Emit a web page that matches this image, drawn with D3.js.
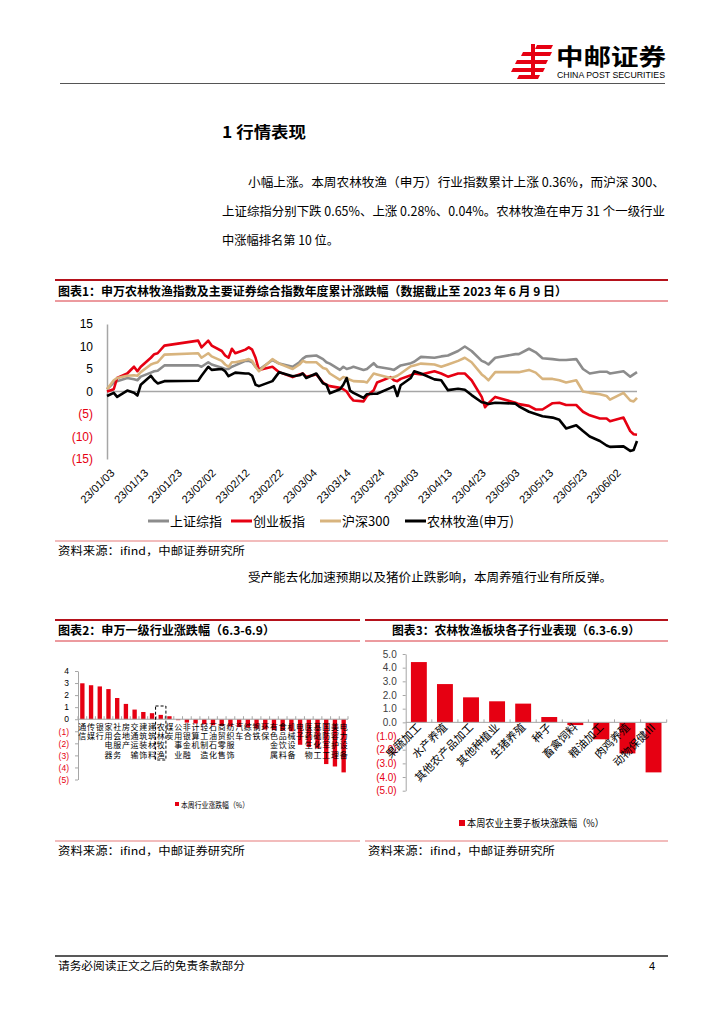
<!DOCTYPE html>
<html><head><meta charset="utf-8">
<script src="https://cdn.jsdelivr.net/npm/d3@7/dist/d3.min.js"></script>
<style>
body{margin:0;background:#fff;}
svg{display:block;}
text{font-family:"Noto Sans CJK SC","Liberation Sans",sans-serif;}
</style></head><body>
<svg id="page" width="724" height="1024"></svg>
<script>
// ---------- Chart 1 data (cumulative YTD %) ----------
const dates = ["2023-01-03","2023-01-05","2023-01-06","2023-01-09","2023-01-11","2023-01-12","2023-01-13","2023-01-16","2023-01-17","2023-01-18","2023-01-20","2023-01-30","2023-01-31",
"2023-02-02","2023-02-03","2023-02-06","2023-02-07","2023-02-08","2023-02-09","2023-02-10","2023-02-13","2023-02-14","2023-02-15","2023-02-16","2023-02-17","2023-02-21","2023-02-23","2023-02-27",
"2023-03-01","2023-03-02","2023-03-03","2023-03-06","2023-03-08","2023-03-09","2023-03-10","2023-03-13","2023-03-14","2023-03-15","2023-03-16","2023-03-17","2023-03-20","2023-03-21","2023-03-23","2023-03-24","2023-03-28","2023-03-29","2023-03-30","2023-03-31",
"2023-04-03","2023-04-04","2023-04-06","2023-04-10","2023-04-12","2023-04-14","2023-04-17","2023-04-19","2023-04-21","2023-04-24","2023-04-25","2023-04-26","2023-04-28",
"2023-05-04","2023-05-05","2023-05-08","2023-05-10","2023-05-12","2023-05-15","2023-05-17","2023-05-19","2023-05-22","2023-05-24","2023-05-26","2023-05-29","2023-05-31",
"2023-06-01","2023-06-05","2023-06-07","2023-06-08","2023-06-09"];
const shComposite = [0.5,2.0,2.3,3.0,2.7,2.5,3.3,4.2,4.5,4.6,5.8,5.8,5.5,
6.5,6.0,5.3,5.0,5.0,5.5,5.8,6.8,6.8,6.5,5.5,4.8,7.0,6.2,5.5,
6.5,7.3,7.8,8.0,7.2,6.5,6.2,4.8,5.5,5.0,5.2,5.5,4.8,5.0,6.3,5.5,5.0,4.8,5.3,5.8,
6.3,6.6,7.7,7.5,7.8,8.0,9.0,10.0,9.0,6.8,6.5,6.0,7.5,
8.3,8.3,9.5,8.7,7.4,7.2,7.0,7.0,7.2,5.0,4.0,4.4,4.4,
4.0,4.5,3.3,3.8,4.3];
const chinext = [0.0,0.5,3.0,4.0,5.5,4.5,5.5,7.5,8.3,8.5,10.2,11.3,9.8,
11.3,10.2,9.0,8.0,7.5,9.5,8.5,9.3,9.8,9.3,7.5,4.8,5.5,4.3,3.2,
3.8,4.0,3.3,3.8,2.0,1.5,1.2,0.8,0.5,0.0,-1.2,-2.0,-2.2,-1.0,0.3,2.0,3.2,2.5,2.3,2.8,
3.6,4.0,3.8,4.5,4.0,3.3,4.0,4.0,2.5,-1.2,-3.5,-2.6,-1.2,
-2.5,-2.8,-3.2,-4.0,-4.0,-2.6,-2.5,-3.0,-3.0,-4.5,-5.3,-6.0,-6.0,
-6.6,-5.8,-8.8,-9.5,-9.6];
const csi300 = [0.5,2.5,3.0,3.5,3.6,3.5,4.3,6.0,6.3,6.5,8.2,8.5,7.5,
8.5,7.8,6.8,6.0,5.5,6.5,6.5,7.0,7.2,6.8,5.5,4.5,7.2,6.2,5.0,
6.0,6.8,6.5,6.5,5.2,5.0,4.0,2.6,3.2,3.0,2.6,2.3,2.2,2.0,4.0,3.8,3.0,3.2,3.5,4.0,
5.6,5.8,6.2,6.0,5.5,6.0,6.8,7.5,6.5,3.8,3.2,2.5,4.3,
4.3,4.3,4.8,4.2,2.8,2.8,2.5,2.0,2.5,0.0,-0.3,-0.6,-1.0,
-1.8,-0.3,-2.0,-2.2,-1.4];
const agriSW = [-1.0,-0.3,-1.2,0.2,-0.3,-0.9,1.5,3.5,2.5,1.8,2.3,2.4,3.5,
5.5,4.8,5.0,4.5,3.4,3.8,4.2,4.0,4.0,3.5,1.5,1.2,2.3,4.3,3.4,
3.6,4.0,3.0,4.0,1.8,1.5,-0.4,0.5,1.5,3.0,0.2,-0.3,-1.4,-0.6,-0.5,-0.5,0.8,1.2,-1.0,1.4,
3.0,4.5,4.0,2.7,2.5,0.3,0.6,0.4,-0.8,-2.4,-2.5,-2.8,-2.5,
-2.7,-3.3,-4.5,-5.0,-5.5,-5.8,-6.3,-8.2,-7.5,-8.8,-10.0,-11.0,-12.0,
-12.3,-12.2,-13.2,-13.0,-11.0];
const seriesNames = ["上证综指","创业板指","沪深300","农林牧渔(申万)"];
const yTicks1 = [15,10,5,0,-5,-10,-15];
const xTickDates = ["2023-01-03","2023-01-13","2023-01-23","2023-02-02","2023-02-12","2023-02-22","2023-03-04","2023-03-14","2023-03-24","2023-04-03","2023-04-13","2023-04-23","2023-05-03","2023-05-13","2023-05-23","2023-06-02"];

// ---------- Chart 2 data ----------
const industries = ["通信","传媒","银行","家用电器","社会服务","房地产","交通运输","建筑装饰","建筑材料","农林牧渔","煤炭","公用事业","非银金融","计算机","轻工制造","石油石化","商贸零售","纺织服饰","汽车","综合","钢铁","环保","有色金属","食品饮料","机械设备","电子","医药生物","基础化工","国防军工","美容护理","电力设备"];
const industryChange = [2.98,2.82,2.72,2.5,1.76,1.27,0.8,0.6,0.5,0.36,0.25,-0.08,-0.28,-0.35,-0.42,-0.5,-0.55,-0.6,-0.65,-0.7,-0.78,-0.85,-0.9,-0.95,-1.0,-2.12,-2.3,-2.42,-3.72,-3.92,-4.41];
const yTicks2 = [4,3,2,1,0,-1,-2,-3,-4,-5];

// ---------- Chart 3 data ----------
const subIndustries = ["果蔬加工","水产养殖","其他农产品加工","其他种植业","生猪养殖","种子","畜禽饲料","粮油加工","肉鸡养殖","动物保健Ⅲ"];
const subChange = [4.41,2.8,1.83,1.54,1.37,0.39,-0.2,-1.24,-2.27,-3.66];
const yTicks3 = [5,4,3,2,1,0,-1,-2,-3,-4,-5];

const RED = "#e60012";
const svg = d3.select("#page");
svg.append("rect").attr("width",724).attr("height",1024).attr("fill","#fff");

function txt(x,y,s,opts={}){
  const t = svg.append("text").attr("x",x).attr("y",y).text(s)
    .attr("font-size",opts.size||12).attr("fill",opts.fill||"#000");
  if(opts.weight) t.attr("font-weight",opts.weight);
  if(opts.len) t.attr("textLength",opts.len).attr("lengthAdjust","spacingAndGlyphs");
  if(opts.anchor) t.attr("text-anchor",opts.anchor);
  if(opts.family) t.style("font-family",opts.family);
  return t;
}
function hline(x1,x2,y,color,w){
  svg.append("line").attr("x1",x1).attr("x2",x2).attr("y1",y).attr("y2",y).attr("stroke",color).attr("stroke-width",w);
}

// ---------- Header ----------
const logo = svg.append("g").attr("fill",RED);
logo.append("polygon").attr("points","537,45 553,45 551,49 535,49");
logo.append("polygon").attr("points","523,52 552,52 550,56 521,56");
logo.append("polygon").attr("points","517,60 548,60 546,64 515,64");
logo.append("polygon").attr("points","513,68 545,68 543,72 511,72");
logo.append("polygon").attr("points","519,75 540,75 538,79 517,79");
logo.append("rect").attr("x",531).attr("y",44).attr("width",4).attr("height",35);
txt(556,65,"中邮证券",{size:23,weight:"bold",len:110});
txt(557,78,"CHINA POST SECURITIES",{size:8.5,len:108,family:"Liberation Sans"});
hline(60,665,83.5,"#555",1);

// ---------- Section text ----------
txt(222,138,"1 行情表现",{size:16,weight:"bold",len:84});
txt(248,187,"小幅上涨。本周农林牧渔（申万）行业指数累计上涨 0.36%，而沪深 300、",{size:12.5,len:417});
txt(222,216,"上证综指分别下跌 0.65%、上涨 0.28%、0.04%。农林牧渔在申万 31 个一级行业",{size:12.5,len:443});
txt(222,245,"中涨幅排名第 10 位。",{size:12.5,len:117});

// ---------- Chart 1 frame ----------
hline(55,668,280,"#b5121b",2);
hline(55,668,301,"#d9363e",1);
txt(58,295.5,"图表1：申万农林牧渔指数及主要证券综合指数年度累计涨跌幅（数据截止至 2023 年 6 月 9 日）",{size:12,weight:"bold",len:509});
hline(55,668,541,"#f2bcbc",2);
txt(58,555,"资料来源：ifind，中邮证券研究所",{size:11,len:187});
txt(248,582,"受产能去化加速预期以及猪价止跌影响，本周养殖行业有所反弹。",{size:12.5,len:364});

// ---------- Chart 1 ----------
const parse = d3.timeParse("%Y-%m-%d");
const dts = dates.map(parse);
const x1 = d3.scaleTime().domain([parse("2023-01-03"),parse("2023-06-09")]).range([107,637]);
const y1 = d3.scaleLinear().domain([-15,15]).range([459,324]);
const g1 = svg.append("g");
g1.append("line").attr("x1",107).attr("x2",637).attr("y1",y1(0)).attr("y2",y1(0)).attr("stroke","#a6a6a6").attr("stroke-width",1.5);
const yAx1 = g1.append("g").attr("transform","translate(107,0)")
  .call(d3.axisLeft(y1).tickValues(yTicks1).tickSize(0).tickPadding(14).tickFormat(d=>d<0?`(${-d})`:d));
yAx1.select(".domain").attr("stroke","#a6a6a6").attr("stroke-width",1.5);
yAx1.selectAll("text").attr("font-size",12).style("font-family","Liberation Sans").attr("fill",d=>d<0?RED:"#000");
const xAx1 = g1.append("g").attr("transform","translate(0,459)")
  .call(d3.axisBottom(x1).tickValues(xTickDates.map(parse)).tickSize(0).tickFormat(d3.timeFormat("%y/%m/%d")));
xAx1.select(".domain").remove();
xAx1.selectAll("text").attr("y",0).attr("dy","0.35em").attr("text-anchor","end")
  .attr("transform","translate(5,12) rotate(-45)").attr("font-size",11).style("font-family","Liberation Sans").attr("fill","#000");
const colors1 = ["#8c8c8c",RED,"#d8b47e","#000"];
const allSeries = [shComposite,chinext,csi300,agriSW];
const line1 = d3.line().x((d,i)=>x1(dts[i])).y(d=>y1(d));
allSeries.forEach((s,k)=>{
  g1.append("path").datum(s).attr("d",line1).attr("fill","none").attr("stroke",colors1[k]).attr("stroke-width",2.6).attr("stroke-linejoin","round");
});
const legX = [148,231,320,405];
seriesNames.forEach((n,k)=>{
  g1.append("line").attr("x1",legX[k]).attr("x2",legX[k]+21).attr("y1",521).attr("y2",521).attr("stroke",colors1[k]).attr("stroke-width",3);
  g1.append("text").attr("x",legX[k]+22).attr("y",526).attr("font-size",13).text(n);
});

// ---------- Chart 2 frame ----------
hline(55,360,620,"#b5121b",2);
hline(55,360,641,"#d9363e",1);
txt(58,634.5,"图表2：申万一级行业涨跌幅（6.3-6.9）",{size:12,weight:"bold",len:217});
hline(55,360,841,"#f2bcbc",2);
txt(58,855,"资料来源：ifind，中邮证券研究所",{size:11,len:187});

// ---------- Chart 2 ----------
const x2 = d3.scaleBand().domain(industries).range([78,348]).paddingInner(0.5).paddingOuter(0.25);
const y2 = d3.scaleLinear().domain([-5,4]).range([779.5,671]);
const g2 = svg.append("g");
const yAx2 = g2.append("g").attr("transform","translate(78,0)")
  .call(d3.axisLeft(y2).tickValues(yTicks2).tickSize(3).tickSizeOuter(0).tickPadding(6).tickFormat(d=>d<0?`(${-d})`:d));
yAx2.selectAll("path,line").attr("stroke","#a6a6a6");
yAx2.selectAll("text").attr("font-size",8.5).style("font-family","Liberation Sans").attr("fill",d=>d<0?RED:"#000");
g2.selectAll("rect.bar").data(industries).enter().append("rect")
  .attr("x",d=>x2(d)).attr("width",x2.bandwidth())
  .attr("y",(d,i)=>y2(Math.max(0,industryChange[i])))
  .attr("height",(d,i)=>Math.abs(y2(industryChange[i])-y2(0)))
  .attr("fill",RED);
g2.append("line").attr("x1",78).attr("x2",348).attr("y1",y2(0)).attr("y2",y2(0)).attr("stroke","#a6a6a6");
for(let i=0;i<=industries.length;i++){
  const bx = 78 + x2.step()*(i+0.25) - x2.step()*0.25 + (i===industries.length?0:0);
  g2.append("line").attr("x1",bx).attr("x2",bx).attr("y1",y2(0)).attr("y2",y2(0)-3).attr("stroke","#a6a6a6");
}
industries.forEach((d,i)=>{
  const cx = x2(d)+x2.bandwidth()/2;
  const t = g2.append("text").attr("font-size",8).attr("text-anchor","middle").attr("fill","#000");
  [...d].forEach((ch,j)=>{
    t.append("tspan").attr("x",cx).attr("y",730+j*9.2).text(ch);
  });
});
const hx = x2("农林牧渔");
g2.append("rect").attr("x",hx-3).attr("y",706).attr("width",x2.bandwidth()+6).attr("height",54)
  .attr("fill","none").attr("stroke","#000").attr("stroke-width",1).attr("stroke-dasharray","3,2");
g2.append("rect").attr("x",175).attr("y",802).attr("width",4).attr("height",4).attr("fill",RED);
g2.append("text").attr("x",181).attr("y",807.5).attr("font-size",8).attr("textLength",68).attr("lengthAdjust","spacingAndGlyphs").text("本周行业涨跌幅（%）");

// ---------- Chart 3 frame ----------
hline(365,668,620,"#b5121b",2);
hline(365,668,641,"#d9363e",1);
txt(392,634.5,"图表3：农林牧渔板块各子行业表现（6.3-6.9）",{size:12,weight:"bold",len:248});
hline(365,668,841,"#f2bcbc",2);
txt(368,855,"资料来源：ifind，中邮证券研究所",{size:11,len:187});

// ---------- Chart 3 ----------
const x3 = d3.scaleBand().domain(subIndustries).range([405.7,666.7]).paddingInner(0.39).paddingOuter(0.2);
const y3 = d3.scaleLinear().domain([-5,5]).range([790.7,654]);
const g3 = svg.append("g");
const yAx3 = g3.append("g").attr("transform","translate(405.7,0)")
  .call(d3.axisLeft(y3).tickValues(yTicks3).tickSize(3).tickSizeOuter(0).tickPadding(6).tickFormat(d=>d<0?`(${(-d).toFixed(1)})`:d.toFixed(1)));
yAx3.selectAll("path,line").attr("stroke","#a6a6a6");
yAx3.selectAll("text").attr("font-size",10).style("font-family","Liberation Sans").attr("fill",d=>d<0?RED:"#404040");
g3.selectAll("rect.bar").data(subIndustries).enter().append("rect")
  .attr("x",d=>x3(d)).attr("width",x3.bandwidth())
  .attr("y",(d,i)=>y3(Math.max(0,subChange[i])))
  .attr("height",(d,i)=>Math.abs(y3(subChange[i])-y3(0)))
  .attr("fill",RED);
g3.append("line").attr("x1",405.7).attr("x2",666.7).attr("y1",y3(0)).attr("y2",y3(0)).attr("stroke","#a6a6a6");
for(let i=1;i<=subIndustries.length;i++){
  const bx = 405.7 + (666.7-405.7)*i/subIndustries.length;
  g3.append("line").attr("x1",bx).attr("x2",bx).attr("y1",y3(0)).attr("y2",y3(0)-3).attr("stroke","#a6a6a6");
}
subIndustries.forEach((d,i)=>{
  const cx = x3(d)+x3.bandwidth()/2;
  g3.append("text").attr("text-anchor","end").attr("font-size",11).attr("fill","#000")
    .attr("transform",`translate(${cx+3},${728}) rotate(-45)`).text(d);
});
g3.append("rect").attr("x",459).attr("y",820).attr("width",6).attr("height",6).attr("fill",RED);
g3.append("text").attr("x",467).attr("y",827).attr("font-size",10).attr("textLength",137).attr("lengthAdjust","spacingAndGlyphs").text("本周农业主要子板块涨跌幅（%）");

// ---------- Footer ----------
hline(55,668,956,"#222",1.5);
txt(58,970,"请务必阅读正文之后的免责条款部分",{size:11,len:187});
txt(649,970,"4",{size:11,family:"Liberation Sans"});
</script></body></html>
